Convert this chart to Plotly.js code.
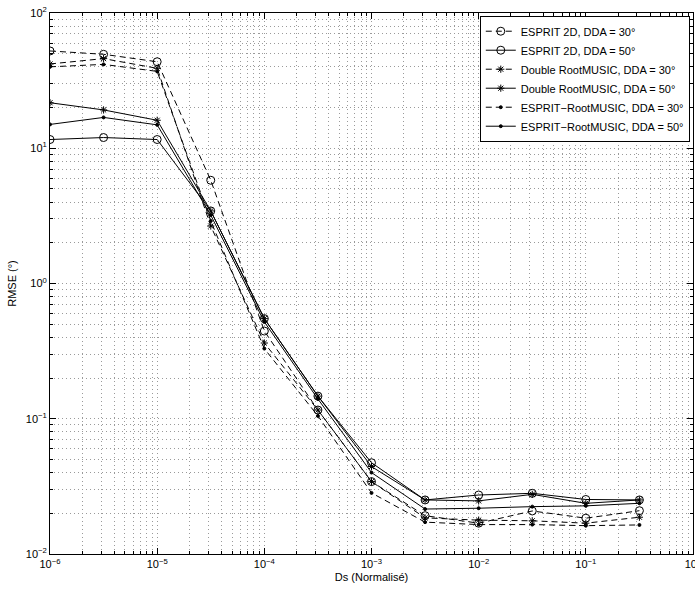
<!DOCTYPE html>
<html>
<head>
<meta charset="utf-8">
<script src="https://cdn.plot.ly/plotly-3.0.1.min.js"></script>
<style>html,body{margin:0;padding:0;background:#fff;overflow:hidden;}#chart{width:695px;height:589px;}</style>
</head>
<body>
<div id="chart"></div>
<script>
// Data
const ds = [1e-6, 3.162e-6, 1e-5, 3.162e-5, 1e-4, 3.162e-4, 1e-3, 3.162e-3, 1e-2, 3.162e-2, 1e-1, 3.162e-1];
const esprit2d_30 = [52.4, 49.5, 43.6, 5.8, 0.445, 0.116, 0.0343, 0.0192, 0.0169, 0.0208, 0.0184, 0.0209];
const esprit2d_50 = [11.6, 12.0, 11.6, 3.44, 0.55, 0.147, 0.0473, 0.0251, 0.0273, 0.0281, 0.0253, 0.0251];
const drm_30 = [42, 46, 39, 2.66, 0.363, 0.116, 0.0343, 0.0185, 0.0178, 0.0176, 0.0169, 0.0187];
const drm_50 = [21.7, 19.2, 16.1, 3.44, 0.55, 0.147, 0.0443, 0.0251, 0.0247, 0.0276, 0.0237, 0.0251];
const erm_30 = [40, 41.7, 37, 2.9, 0.33, 0.105, 0.0283, 0.0172, 0.0165, 0.0165, 0.0162, 0.0164];
const erm_50 = [15.0, 16.9, 14.9, 3.2, 0.52, 0.14, 0.040, 0.0215, 0.0218, 0.0224, 0.0227, 0.0237];
const names = ["ESPRIT 2D, DDA = 30°", "ESPRIT 2D, DDA = 50°", "Double RootMUSIC, DDA = 30°",
               "Double RootMUSIC, DDA = 50°", "ESPRIT\u2212RootMUSIC, DDA = 30°", "ESPRIT\u2212RootMUSIC, DDA = 50°"];
const xDecades = [-6, -5, -4, -3, -2, -1, 0];
const yDecades = [-2, -1, 0, 1, 2];

function majors(dec){ return dec.map(d => Math.pow(10, d)); }
function majText(dec){ return dec.map(d => "10<sup>" + (d < 0 ? "\u2212" + (-d) : d) + "</sup>"); }
function minors(dec){
  const out = [];
  for (let i = 0; i < dec.length - 1; i++) for (let k = 2; k <= 9; k++) out.push(k * Math.pow(10, dec[i]));
  return out;
}

const dashPat = "6px,4px";
const series = [
  {y: esprit2d_30, dash: dashPat, sym: "circle-open", size: 8},
  {y: esprit2d_50, dash: "solid", sym: "circle-open", size: 8},
  {y: drm_30, dash: dashPat, sym: "asterisk-open", size: 6},
  {y: drm_50, dash: "solid", sym: "asterisk-open", size: 6},
  {y: erm_30, dash: dashPat, sym: "circle", size: 3},
  {y: erm_50, dash: "solid", sym: "circle", size: 3}
];
const traces = series.map((s, i) => ({
  x: ds, y: s.y, name: names[i], type: "scatter", mode: "lines+markers",
  line: {color: "#000", width: 1, dash: s.dash},
  marker: {symbol: s.sym, size: s.size, color: "#000", line: {color: "#000", width: 1}}
}));

const font = {family: "Liberation Sans, Arial, Helvetica, sans-serif", size: 11, color: "#000"};
const gridStyle = {showgrid: true, gridcolor: "#9a9a9a", griddash: "1px,3px", gridwidth: 1};

const layout = {
  width: 695, height: 589,
  margin: {l: 50, r: 2, t: 13, b: 35},
  paper_bgcolor: "#fff", plot_bgcolor: "#fff",
  font: font,
  showlegend: true,
  legend: {x: 0.995, xanchor: "right", y: 0.995, yanchor: "top",
           bgcolor: "#fff", bordercolor: "#000", borderwidth: 1,
           font: {family: font.family, size: 11, color: "#000"}, tracegroupgap: 0},
  xaxis: Object.assign({
    type: "log", range: [-6, 0],
    title: {text: "Ds (Normalisé)", font: {family: font.family, size: 11}, standoff: 4},
    tickmode: "array", tickvals: majors(xDecades), ticktext: majText(xDecades),
    ticklabeloverflow: "allow",
    ticks: "inside", ticklen: 6, tickcolor: "#000", tickwidth: 1,
    minor: Object.assign({tickmode: "array", tickvals: minors(xDecades), ticks: "inside", ticklen: 3, tickcolor: "#000"}, gridStyle),
    showline: true, linecolor: "#000", linewidth: 1, mirror: "allticks",
    zeroline: false, tickfont: {family: font.family, size: 11}
  }, gridStyle),
  yaxis: Object.assign({
    type: "log", range: [-2, 2],
    title: {text: "RMSE (°)", font: {family: font.family, size: 11}, standoff: 6},
    tickmode: "array", tickvals: majors(yDecades), ticktext: majText(yDecades),
    ticklabeloverflow: "allow",
    ticks: "inside", ticklen: 6, tickcolor: "#000", tickwidth: 1,
    minor: Object.assign({tickmode: "array", tickvals: minors(yDecades), ticks: "inside", ticklen: 3, tickcolor: "#000"}, gridStyle),
    showline: true, linecolor: "#000", linewidth: 1, mirror: "allticks",
    zeroline: false, tickfont: {family: font.family, size: 11}
  }, gridStyle)
};

Plotly.newPlot("chart", traces, layout, {displayModeBar: false, staticPlot: true});
</script>
</body>
</html>
